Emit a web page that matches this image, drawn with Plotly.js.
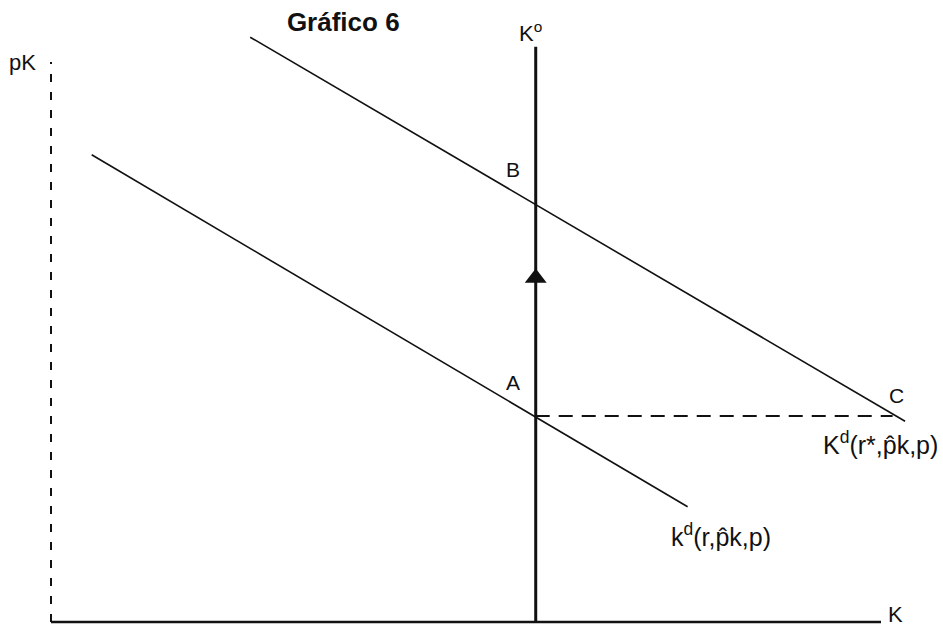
<!DOCTYPE html>
<html>
<head>
<meta charset="utf-8">
<script src="https://cdn.plot.ly/plotly-3.0.1.min.js"></script>
<style>html,body{margin:0;padding:0;background:#fff;}#chart{width:943px;height:630px;}</style>
</head>
<body>
<div id="chart"></div>
<script>
// Capital quantity (K) and price of capital (pK), abstract units
const axisK = [0, 10];          // horizontal axis extent
const axisPK = [0, 7];          // vertical (dashed) axis extent
const supplyK = 5.84;           // fixed capital stock K°
const supplyPK = [0, 7.19];
const demandHighK = [2.40, 10.29];   // Kd(r*, p̂k, p)
const demandHighPK = [7.31, 2.51];
const demandLowK = [0.49, 7.67];     // kd(r, p̂k, p)
const demandLowPK = [5.84, 1.44];
const pointA_PK = 2.575;
const pointB_PK = 5.21;
const dashEndK = 10.14;
const arrowPK = 4.30;

const black = '#111';
const traces = [
  {x: [0, 0], y: axisPK, mode: 'lines', line: {color: black, width: 2, dash: '8px,10px'}},
  {x: axisK, y: [0, 0], mode: 'lines', line: {color: black, width: 2.5}},
  {x: [supplyK, supplyK], y: supplyPK, mode: 'lines', line: {color: black, width: 3}},
  {x: demandHighK, y: demandHighPK, mode: 'lines', line: {color: black, width: 1.6}},
  {x: demandLowK, y: demandLowPK, mode: 'lines', line: {color: black, width: 1.6}},
  {x: [supplyK, dashEndK], y: [pointA_PK, pointA_PK], mode: 'lines', line: {color: black, width: 2, dash: '14px,9px'}},
  {x: [supplyK], y: [arrowPK], mode: 'markers', marker: {symbol: 'triangle-up', size: 19, color: black}}
];

const fam = 'Liberation Sans, Arial, sans-serif';
function ann(x, y, text, size, extra) {
  return Object.assign({x: x, y: y, text: text, showarrow: false,
    font: {family: fam, size: size, color: black}, xanchor: 'center', yanchor: 'middle'}, extra || {});
}
const annotations = [
  ann(-0.34, 7.0, 'pK', 22),
  ann(supplyK - 0.06, 7.38, 'K<sup>o</sup>', 22),
  ann(supplyK - 0.27, 5.66, 'B', 21),
  ann(supplyK - 0.27, 3.0, 'A', 21),
  ann(10.19, 2.83, 'C', 21),
  ann(10.71, 2.24, 'K<sup>d</sup>(r*,p̂k,p)', 25, {xanchor: 'right'}),
  ann(8.07, 1.09, 'k<sup>d</sup>(r,p̂k,p)', 25),
  ann(10.17, -0.09, 'K', 22, {yanchor: 'bottom'})
];

const layout = {
  width: 943, height: 630,
  margin: {l: 0, r: 0, t: 0, b: 0},
  paper_bgcolor: '#fff', plot_bgcolor: '#fff',
  showlegend: false,
  title: {text: '<b>Gráfico 6</b>', x: 0.364, xanchor: 'center', y: 0.965, yanchor: 'middle',
          font: {family: fam, size: 26, color: black}},
  xaxis: {range: [-0.6145, 10.747], visible: false, fixedrange: true},
  yaxis: {range: [-0.1, 7.775], visible: false, fixedrange: true},
  annotations: annotations
};
Plotly.newPlot('chart', traces, layout, {staticPlot: true, displayModeBar: false});
</script>
</body>
</html>
